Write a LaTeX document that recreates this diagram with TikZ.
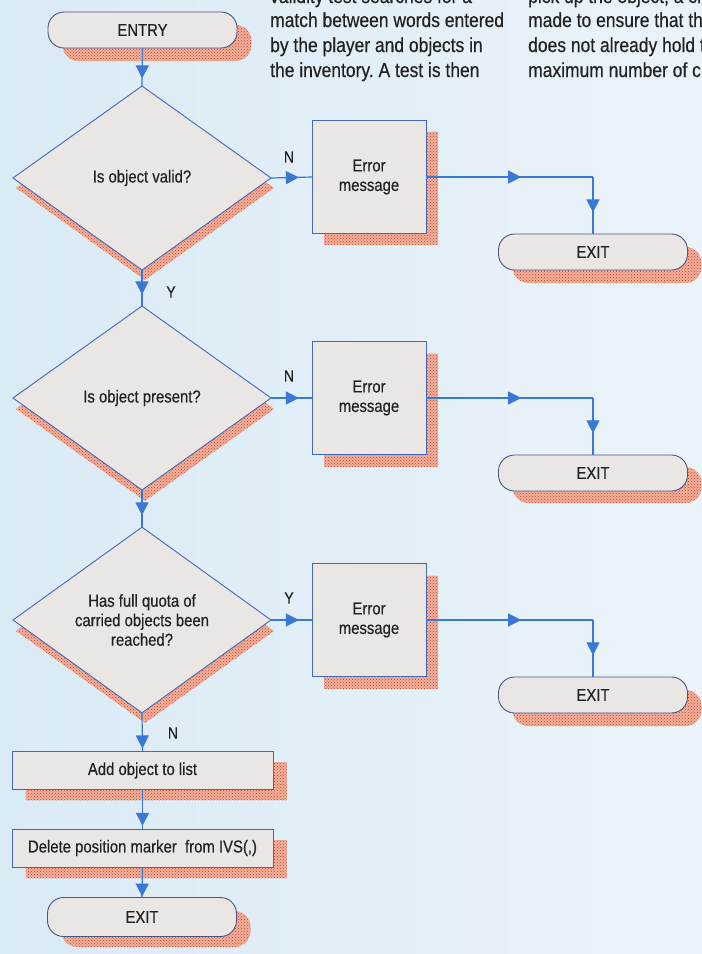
\documentclass[tikz,border=0pt]{standalone}
\usepackage{fontspec}
\setmainfont{Liberation Sans}[FakeStretch=0.86, FakeBold=0.4]
\frenchspacing
\usetikzlibrary{shapes.geometric,patterns,decorations.markings,arrows.meta}
\definecolor{bgA}{HTML}{DAEAF5}
\definecolor{bgB}{HTML}{EAF3F9}
\definecolor{shapefill}{HTML}{E9E6E4}
\definecolor{boxline}{HTML}{4468B8}
\definecolor{termline}{HTML}{4C5488}
\definecolor{flowblue}{HTML}{3A78D6}
\definecolor{shadowpink}{HTML}{F0B09A}
\definecolor{shadowred}{HTML}{D0402C}
\definecolor{inktext}{HTML}{222222}
\begin{document}
\begin{tikzpicture}[x=1pt,y=-1pt,
  shapetext/.style={font=\fontsize{17.3}{19.5}\selectfont, text=inktext, align=center},
  term/.style={shapetext, rectangle, rounded corners=16pt, draw=termline, fill=shapefill, line width=0.9pt, minimum width=189pt, minimum height=36pt, inner sep=0pt, outer sep=0pt},
  dia/.style={shapetext, diamond, draw=boxline, fill=shapefill, line width=0.9pt, minimum width=258pt, minimum height=184pt, inner sep=0pt, outer sep=0pt},
  errbox/.style={shapetext, rectangle, draw=boxline, fill=shapefill, line width=0.9pt, minimum width=114pt, minimum height=113pt, inner sep=0pt, outer sep=0pt},
  wide/.style={shapetext, rectangle, draw=boxline, fill=shapefill, line width=0.9pt, minimum width=261pt, minimum height=38pt, inner sep=0pt, outer sep=0pt},
  shad/.style={draw=none, fill=shadowpink, postaction={pattern=crosshatch dots, pattern color=shadowred}},
  lbl/.style={font=\fontsize{16.5}{18}\selectfont, text=inktext, inner sep=0pt},
  para/.style={font=\fontsize{20.3}{24}\selectfont, text=inktext, inner sep=0pt, anchor=base west},
  flow/.style={draw=flowblue, line width=1.2pt, postaction={decorate},
    decoration={markings, mark=at position #1 with {\arrow{Triangle[length=13pt,width=13pt]}}}},
  flow/.default=0.6
]
\useasboundingbox (0,0) rectangle (702,954);
\clip (0,0) rectangle (702,954);
\shade[left color=bgA, right color=bgB] (0,0) rectangle (702,954);

% paragraph text (cut by the page edges, as in the reference)
\node[para] (pa1) at (270,3) {validity test searches for a};
\node[para] (pa2) at (270,27) {match between words entered};
\node[para] (pa3) at (270,52) {by the player and objects in};
\node[para] (pa4) at (270,77) {the inventory. A test is then};
\node[para] (pb1) at (528,3) {pick up the object, a ch};
\node[para] (pb2) at (528,27) {made to ensure that th};
\node[para] (pb3) at (528,52) {does not already hold t};
\node[para] (pb4) at (528,77) {maximum number of c};

% shadows
\node[term, shad] (entrys) at (157,43) {};
\node[dia, shad] (d1s) at (145,188) {};
\node[dia, shad] (d2s) at (145,409) {};
\node[dia, shad] (d3s) at (145,631) {};
\node[errbox, shad] (e1s) at (381,188) {};
\node[errbox, shad] (e2s) at (381,410) {};
\node[errbox, shad] (e3s) at (381,632) {};
\node[term, shad] (x1s) at (607,265) {};
\node[term, shad] (x2s) at (607,485) {};
\node[term, shad] (x3s) at (607,708) {};
\node[wide, shad] (adds) at (156,781) {};
\node[wide, shad] (dels) at (156,859) {};
\node[term, shad] (x4s) at (156,929) {};

% main nodes
\node[term] (entry) at (142.5,30) {ENTRY};
\node[dia] (d1) at (142,178) {Is object valid?};
\node[dia] (d2) at (142,398) {Is object present?};
\node[dia] (d3) at (142,620) {Has full quota of\\carried objects been\\reached?};
\node[errbox] (e1) at (369,177) {Error\\message};
\node[errbox] (e2) at (369,398) {Error\\message};
\node[errbox] (e3) at (369,620) {Error\\message};
\node[term] (x1) at (593,252) {EXIT};
\node[term] (x2) at (593,473) {EXIT};
\node[term] (x3) at (593,695) {EXIT};
\node[wide] (add) at (142.5,770.5) {Add object to list};
\node[wide] (del) at (142.5,848) {Delete position marker\ \ from IVS(,)};
\node[term, minimum height=39pt] (x4) at (142,917) {EXIT};

% connectors
\coordinate (c1) at (x1.north |- e1.east);
\coordinate (c2) at (x2.north |- e2.east);
\coordinate (c3) at (x3.north |- e3.east);
\draw[flow=0.8] (entry.south) -- (d1.north);
\draw[flow=0.68] (d1.east) -- (e1.west);
\draw[flow=0.57] (e1.east) -- (c1);
\draw[flow=0.62] (c1) -- (x1.north);
\draw[flow=0.68] (d1.south) -- (d2.north);
\draw[flow=0.68] (d2.east) -- (e2.west);
\draw[flow=0.57] (e2.east) -- (c2);
\draw[flow=0.62] (c2) -- (x2.north);
\draw[flow=0.68] (d2.south) -- (d3.north);
\draw[flow=0.68] (d3.east) -- (e3.west);
\draw[flow=0.57] (e3.east) -- (c3);
\draw[flow=0.62] (c3) -- (x3.north);
\draw[flow=0.92] (d3.south) -- (add.north);
\draw[flow=0.92] (add.south) -- (del.north);
\draw[flow=0.97] (del.south) -- (x4.north);

% branch labels
\node[lbl] (n1) at (289,157) {N};
\node[lbl] (y1) at (171,292) {Y};
\node[lbl] (n2) at (289,376) {N};
\node[lbl] (y3) at (289,598) {Y};
\node[lbl] (n3) at (173,733) {N};
\end{tikzpicture}
\end{document}
